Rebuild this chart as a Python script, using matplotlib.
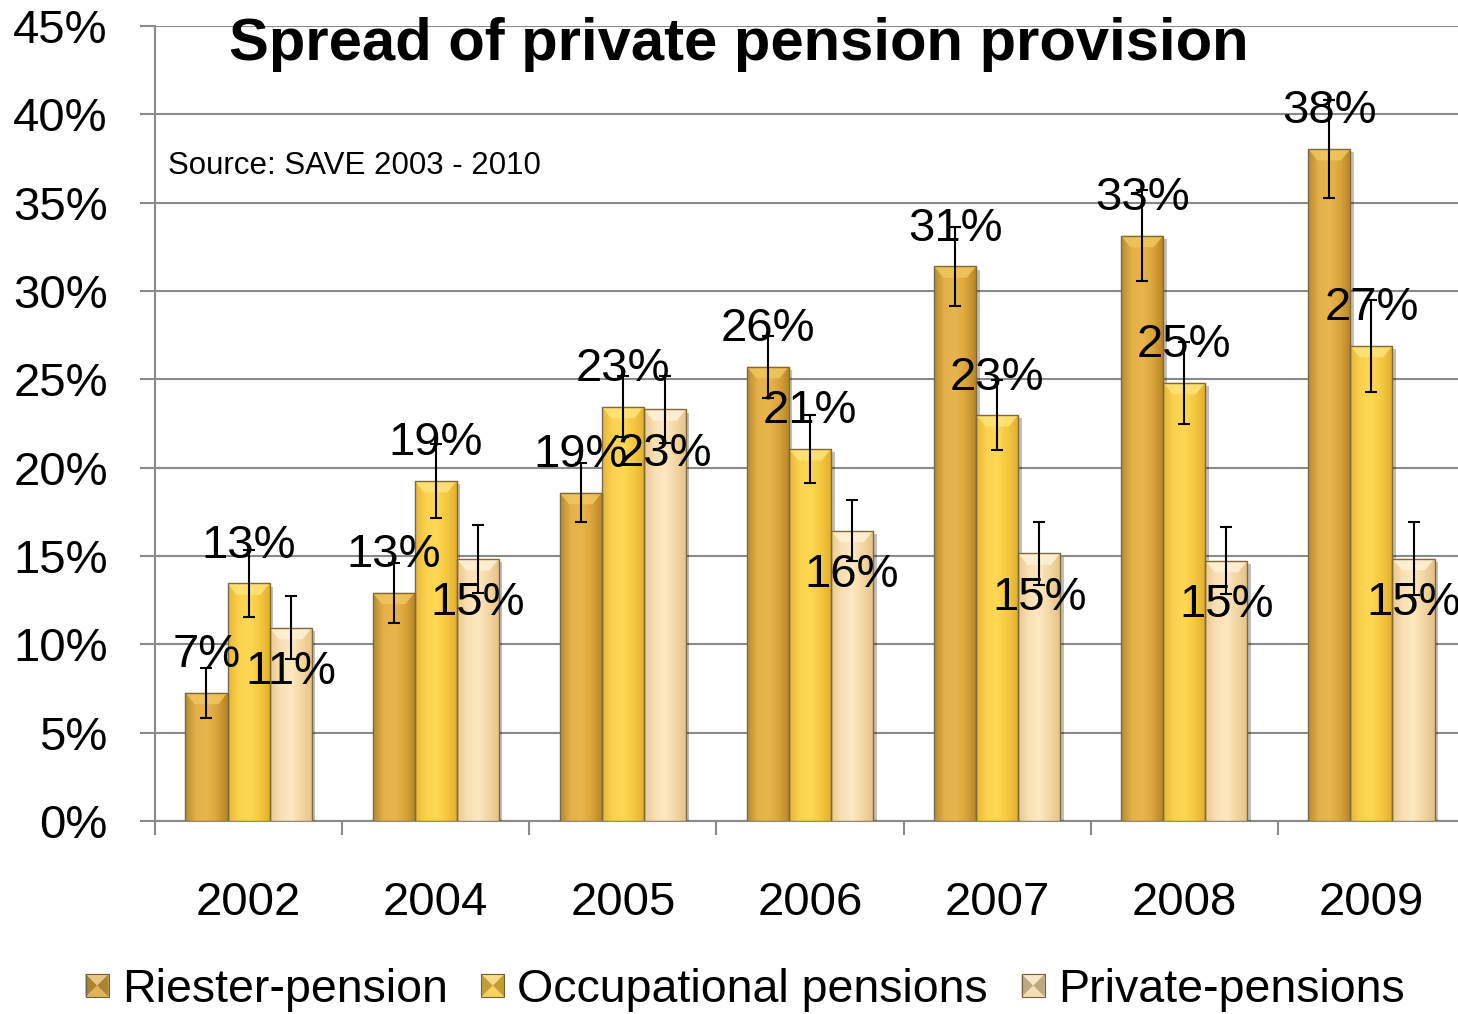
import numpy as np
import matplotlib.pyplot as plt
import matplotlib.patheffects as pe
from matplotlib.colors import LinearSegmentedColormap, to_rgb
from matplotlib.patches import Polygon, Rectangle
from matplotlib.legend_handler import HandlerBase

plt.rcParams['font.family'] = ['Liberation Sans', 'DejaVu Sans']

# shares of households (%) with each type of pension, plus error margins
years = ['2002', '2004', '2005', '2006', '2007', '2008', '2009']
riester = [7.26, 12.92, 18.58, 25.72, 31.4, 33.13, 38.04]
occupational = [13.45, 19.25, 23.45, 21.06, 22.98, 24.81, 26.9]
private = [10.94, 14.83, 23.3, 16.43, 15.15, 14.73, 14.85]
riester_err = [1.42, 1.7, 1.68, 1.75, 2.24, 2.57, 2.76]
occupational_err = [1.9, 2.1, 1.74, 1.91, 2.0, 2.33, 2.6]
private_err = [1.78, 1.92, 1.89, 1.72, 1.77, 1.9, 2.06]
series_names = ['Riester-pension', 'Occupational pensions', 'Private-pensions']

base_cols = ['#dca63c', '#f7c943', '#f4d8a4']
shades = [
    ['#b8892c', '#e3b04a', '#e8b64d', '#dba43a', '#b4842a'],
    ['#e8b632', '#fad24f', '#fed853', '#f5c73e', '#e0ad30'],
    ['#e9c890', '#f8e0b4', '#fde8c2', '#f3d6a2', '#e4c189'],
]
bevel_cols = ['#f1c65e', '#ffe37a', '#fff1d6']
label_off = [27, 27, -32]
grid_col = '#8a8a8a'


class BevelSquare(HandlerBase):
    def create_artists(self, legend, orig_handle, xdescent, ydescent,
                       width, height, fontsize, trans):
        c = np.array(to_rgb(orig_handle.get_facecolor()))
        light = tuple(c + (1 - c) * 0.35)
        dark = tuple(c * 0.78)
        s = min(width, height)
        x0 = -xdescent + (width - s) / 2
        y0 = -ydescent + (height - s) / 2
        x1, y1 = x0 + s, y0 + s
        cx, cy = x0 + s / 2, y0 + s / 2
        tris = [
            ([(x0, y1), (x1, y1), (cx, cy)], light),
            ([(x0, y0), (x1, y0), (cx, cy)], tuple(c + (1 - c) * 0.15)),
            ([(x0, y0), (x0, y1), (cx, cy)], dark),
            ([(x1, y0), (x1, y1), (cx, cy)], dark),
        ]
        arts = [Polygon(p, closed=True, facecolor=col, edgecolor='none',
                        transform=trans) for p, col in tris]
        arts.append(Rectangle((x0, y0), s, s, fill=False, edgecolor='#6e6040',
                              lw=0.8, transform=trans))
        return arts


fig = plt.figure(figsize=(14.58, 10.14), dpi=100)
ax = fig.add_axes([155 / 1458, 193 / 1014, 1310 / 1458, 795 / 1014])

x = np.arange(len(years))
w = 0.225
grad = np.linspace(0, 1, 128)[None, :]
series = [(riester, riester_err), (occupational, occupational_err),
          (private, private_err)]

handles = []
for k, (vals, errs) in enumerate(series):
    pos = x + (k - 1) * w
    bars = ax.bar(pos, vals, w, color=base_cols[k], zorder=3,
                  path_effects=[pe.SimplePatchShadow(offset=(2.5, -2.5),
                                                     shadow_rgbFace='k',
                                                     alpha=0.25),
                                pe.Normal()])
    cmap = LinearSegmentedColormap.from_list('shade%d' % k, shades[k])
    for b in bars:
        bx, bw, bh = b.get_x(), b.get_width(), b.get_height()
        im = ax.imshow(grad, extent=(bx, bx + bw, 0, bh), cmap=cmap,
                       aspect='auto', zorder=3.1, interpolation='bicubic')
        im.set_clip_path(b)
        ins, bev = 0.05, 0.65
        ax.add_patch(Polygon([(bx, bh), (bx + bw, bh), (bx + bw - ins, bh - bev),
                              (bx + ins, bh - bev)], closed=True,
                             facecolor=bevel_cols[k], edgecolor='none',
                             alpha=0.85, zorder=3.2))
    ax.bar(pos, vals, w, fill=False, edgecolor='#7d6a3c', lw=1, zorder=3.3)
    ax.errorbar(pos, vals, yerr=errs, fmt='none', ecolor='black',
                elinewidth=1.5, capsize=4.5, capthick=1.5, zorder=5)
    for p, v in zip(pos, vals):
        ax.annotate('%d%%' % round(v), (p, v), xytext=(0, label_off[k]),
                    textcoords='offset points', ha='center', va='center',
                    fontsize=34, zorder=6)
    handles.append(Rectangle((0, 0), 1, 1, facecolor=base_cols[k]))

ax.set_xlim(-0.5, 6.5)
ax.set_ylim(0, 45)
ax.set_yticks(range(0, 46, 5))
ax.set_yticklabels(['%d%%' % t for t in range(0, 46, 5)])
ax.yaxis.grid(True, color=grid_col, lw=1.5)
ax.set_axisbelow(True)
ax.set_xticks(x)
ax.set_xticklabels(years)
ax.set_xticks(np.arange(-0.5, 7, 1), minor=True)
ax.tick_params(axis='x', which='major', length=0, pad=43, labelsize=34)
ax.tick_params(axis='x', which='minor', length=10, width=1.5, color=grid_col,
               direction='out')
ax.tick_params(axis='y', length=11, width=1.5, color=grid_col, pad=23,
               labelsize=34)
for side in ['top', 'right']:
    ax.spines[side].set_visible(False)
for side in ['left', 'bottom']:
    ax.spines[side].set_color(grid_col)
    ax.spines[side].set_linewidth(1.5)

fig.text(739 / 1458, 1 - 45 / 1014, 'Spread of private pension provision',
         ha='center', va='center', fontsize=43, fontweight='bold')
fig.text(168 / 1458, 1 - 166 / 1014, 'Source: SAVE 2003 - 2010',
         ha='left', va='center', fontsize=22.5)

fig.legend(handles, series_names, loc='center',
           bbox_to_anchor=(745 / 1458, 1 - 990 / 1014), ncol=3, frameon=False,
           fontsize=33.5, handlelength=0.5, handleheight=0.5,
           handletextpad=0.28, columnspacing=0.72,
           handler_map={Rectangle: BevelSquare()})

fig.savefig('out.png', dpi=100)
